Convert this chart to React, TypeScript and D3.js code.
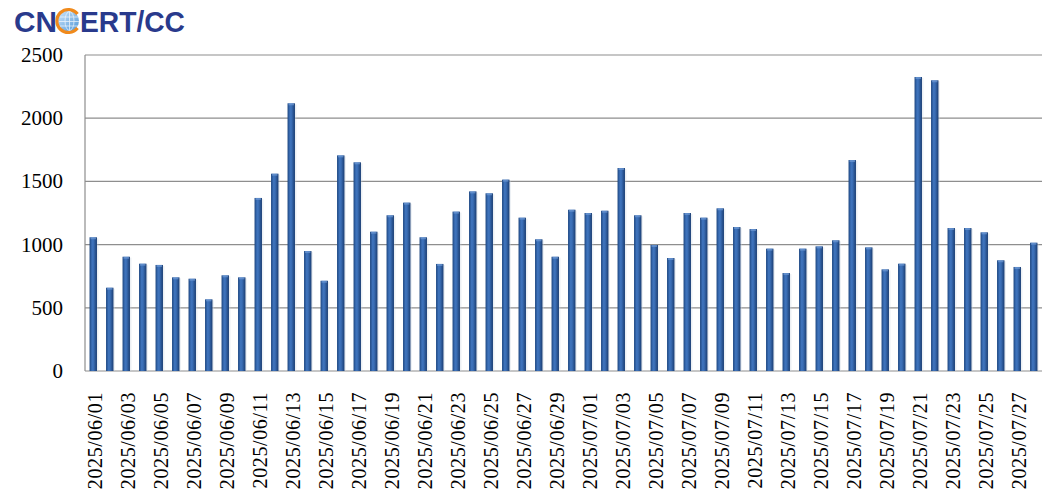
import React from "react";
import * as d3 from "d3";

const dates: string[] = [
  "2025/06/01","2025/06/02","2025/06/03","2025/06/04","2025/06/05","2025/06/06","2025/06/07","2025/06/08","2025/06/09","2025/06/10",
  "2025/06/11","2025/06/12","2025/06/13","2025/06/14","2025/06/15","2025/06/16","2025/06/17","2025/06/18","2025/06/19","2025/06/20",
  "2025/06/21","2025/06/22","2025/06/23","2025/06/24","2025/06/25","2025/06/26","2025/06/27","2025/06/28","2025/06/29","2025/06/30",
  "2025/07/01","2025/07/02","2025/07/03","2025/07/04","2025/07/05","2025/07/06","2025/07/07","2025/07/08","2025/07/09","2025/07/10",
  "2025/07/11","2025/07/12","2025/07/13","2025/07/14","2025/07/15","2025/07/16","2025/07/17","2025/07/18","2025/07/19","2025/07/20",
  "2025/07/21","2025/07/22","2025/07/23","2025/07/24","2025/07/25","2025/07/26","2025/07/27","2025/07/28",
];

const values: number[] = [
  1058, 659, 904, 849, 839, 741, 730, 567, 757, 741,
  1369, 1561, 2118, 949, 714, 1706, 1651, 1102, 1232, 1332,
  1058, 847, 1261, 1421, 1406, 1514, 1213, 1042, 904, 1276,
  1250, 1268, 1606, 1232, 997, 894, 1250, 1213, 1287, 1139,
  1123, 968, 775, 968, 986, 1034, 1669, 978, 804, 849,
  2326, 2300, 1131, 1131, 1097, 876, 823, 1015,
];

const yTicks: number[] = [0, 500, 1000, 1500, 2000, 2500];

const W = 1062;
const H = 502;
const left = 85;
const right = 1042;
const top = 55;
const bottom = 371;

export default function App() {
  const x = d3.scaleBand<string>().domain(dates).range([left, right]).paddingInner(0.55).paddingOuter(0.275);
  const y = d3.scaleLinear().domain([0, 2500]).range([bottom, top]);
  const labelDates = dates.filter((_, i) => i % 2 === 0);
  const bw = x.bandwidth();

  return (
    <svg width={W} height={H} style={{ position: "absolute", left: 0, top: 0, background: "#fff" }}>
      <defs>
        <linearGradient id="barGrad" x1="0" x2="1" y1="0" y2="0">
          <stop offset="0%" stopColor="#1d4680" />
          <stop offset="35%" stopColor="#3f74bd" />
          <stop offset="55%" stopColor="#3a6db4" />
          <stop offset="100%" stopColor="#1a3d72" />
        </linearGradient>
        <linearGradient id="globeGrad" x1="0" x2="1" y1="0" y2="1">
          <stop offset="0%" stopColor="#cfe6fb" />
          <stop offset="100%" stopColor="#4f97d8" />
        </linearGradient>
      </defs>

      {/* Logo */}
      <g>
        <text x={14} y={32} fontFamily="Liberation Sans, Arial, sans-serif" fontWeight="bold" fontSize={29} fill="#293a8c" textLength={43} lengthAdjust="spacingAndGlyphs">CN</text>
        <circle cx={68.5} cy={21} r={10.5} fill="url(#globeGrad)" />
        <path d="M 77.5 14 A 11.5 11.5 0 1 0 77.5 28" fill="none" stroke="#f08a1c" strokeWidth={3.2} />
        <g stroke="#ffffff" strokeWidth={0.8} fill="none" opacity={0.8}>
          <ellipse cx={69.5} cy={21} rx={4.5} ry={9.5} />
          <line x1={60} y1={17} x2={79} y2={17} />
          <line x1={59} y1={21.5} x2={80} y2={21.5} />
          <line x1={60} y1={26} x2={79} y2={26} />
          <line x1={69.5} y1={11.5} x2={69.5} y2={30.5} />
        </g>
        <text x={80} y={32} fontFamily="Liberation Sans, Arial, sans-serif" fontWeight="bold" fontSize={29} fill="#293a8c" textLength={105} lengthAdjust="spacingAndGlyphs">ERT/CC</text>
      </g>

      {/* Gridlines */}
      {yTicks.map((t) => (
        <line key={"g" + t} x1={left} x2={right} y1={y(t)} y2={y(t)} stroke="#8e8e8e" strokeWidth={1.2} />
      ))}
      <line x1={left} x2={left} y1={top} y2={bottom} stroke="#8e8e8e" strokeWidth={1.2} />

      {/* Y tick labels */}
      {yTicks.map((t) => (
        <text key={"yl" + t} x={63} y={y(t)} textAnchor="end" dominantBaseline="central" fontFamily="Liberation Serif, Times New Roman, serif" fontSize={21} fill="#000">
          {t}
        </text>
      ))}

      {/* Bars */}
      {dates.map((d, i) => (
        <g key={d}>
          <rect x={(x(d) as number) + 1.5} y={y(values[i]) + 1} width={bw} height={bottom - y(values[i]) - 1} fill="#c9d3e0" opacity={0.35} />
          <rect x={x(d) as number} y={y(values[i])} width={bw} height={bottom - y(values[i])} fill="url(#barGrad)" />
          <rect x={(x(d) as number) + 1} y={y(values[i])} width={bw - 2} height={2} fill="#6f9ad4" opacity={0.7} />
        </g>
      ))}

      {/* X labels */}
      {labelDates.map((d) => {
        const cx = (x(d) as number) + bw / 2 + 2;
        const ly = bottom + 21;
        return (
          <text key={"xl" + d} transform={`translate(${cx},${ly}) rotate(-90)`} textAnchor="end" dominantBaseline="central" fontFamily="Liberation Serif, Times New Roman, serif" fontSize={20} fill="#000" letterSpacing={0.6}>
            {d}
          </text>
        );
      })}
    </svg>
  );
}
